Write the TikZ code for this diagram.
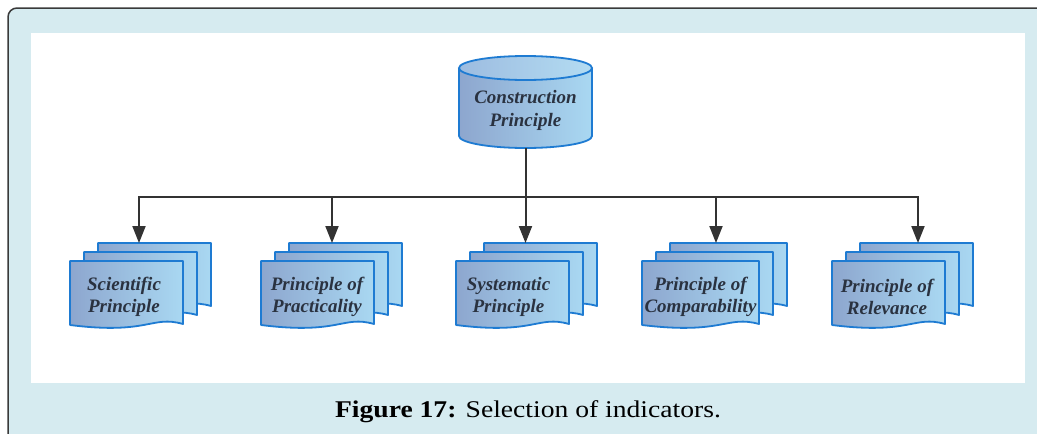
\documentclass[tikz,border=0pt]{standalone}
\usepackage{fontspec}
\setmainfont{Liberation Serif}
\usetikzlibrary{arrows.meta}
\definecolor{bgblue}{HTML}{D6EBF0}
\definecolor{framegray}{HTML}{3A3A3A}
\definecolor{edgeblue}{HTML}{1E7BD2}
\definecolor{fillL}{HTML}{8DA6CE}
\definecolor{fillR}{HTML}{A9D8F2}
\definecolor{topL}{HTML}{9DBCE0}
\definecolor{topR}{HTML}{B3DCF2}
\definecolor{txt}{HTML}{2A3240}
\definecolor{conn}{HTML}{333333}
\tikzset{
  sheet/.style={draw=edgeblue, line width=1.8pt, left color=fillL, right color=fillR, line join=round},
  doclabel/.style={text=txt, font=\fontsize{19}{22}\selectfont\bfseries\itshape, align=center, inner sep=0pt},
  arr/.style={draw=conn, line width=2pt, -{Triangle[width=13pt,length=17pt]}},
  plainline/.style={draw=conn, line width=2pt},
}
\newcommand{\docgroup}[5]{% #1 name, #2 left, #3 width, #4 text x (local), #5 text
  \begin{scope}[shift={(#2,261)}]
    \foreach \dx/\dy in {28/-18, 14/-9, 0/0}{
      \path[sheet] (\dx,\dy) -- ++(#3,0) -- ++(0,63)
        .. controls ++(-0.28*#3,-9) and ++(0.7*#3,10) .. ++(-#3,1) -- cycle;
    }
    \node[doclabel] (#1) at (#4,36) {#5};
  \end{scope}
}
\begin{document}
\begin{tikzpicture}[x=1pt,y=-1pt]
\useasboundingbox (0,0) rectangle (1037,434);
\begin{scope}
  \clip (0,0) rectangle (1037,434);
  \draw[fill=bgblue, draw=framegray, line width=1.5pt, rounded corners=9pt] (8,8) rectangle (1070,470);
\end{scope}
\fill[white] (31,33) rectangle (1025,383);

% cylinder
\path[left color=fillL, right color=fillR] (459,68) -- (459,136)
  arc[start angle=180, end angle=0, x radius=66.5, y radius=12] -- (592,68) -- cycle;
\draw[edgeblue, line width=1.8pt] (459,68) -- (459,136)
  arc[start angle=180, end angle=0, x radius=66.5, y radius=12] -- (592,68);
\draw[edgeblue, line width=1.8pt, left color=topL, right color=topR] (525.5,68) ellipse[x radius=66.5, y radius=12];
\node[minimum width=133pt, minimum height=92pt, inner sep=0pt] (cyl) at (525.5,102) {};
\node[doclabel, font=\fontsize{19}{23}\selectfont\bfseries\itshape] (cyllabel) at (525.5,110) {Construction\\Principle};

% documents
\docgroup{d1}{70}{113}{54}{Scientific\\Principle}
\docgroup{d2}{261}{113}{56}{Principle of\\Practicality}
\docgroup{d3}{456}{113}{52.5}{Systematic\\Principle}
\docgroup{d4}{642}{117}{58.5}{Principle of\\Comparability}
\docgroup{d5}{832}{113}{55}{Principle of\\Relevance}

% connectors
\coordinate (j) at (525.5,197);
\coordinate (t1) at (139,243);
\coordinate (t2) at (332,243);
\coordinate (t3) at (525.5,243);
\coordinate (t4) at (716,243);
\coordinate (t5) at (918,243);
\draw[plainline] (cyl.south) -- (j);
\foreach \t in {t1,t2,t3,t4,t5}{
  \draw[arr] (j) -| (\t);
}

% caption
\node[anchor=base, inner sep=0pt, font=\fontsize{24}{27}\selectfont] (caption) at (528,417) {\scalebox{1.15}[1]{\textbf{Figure 17:} Selection of indicators.}};
\end{tikzpicture}
\end{document}
